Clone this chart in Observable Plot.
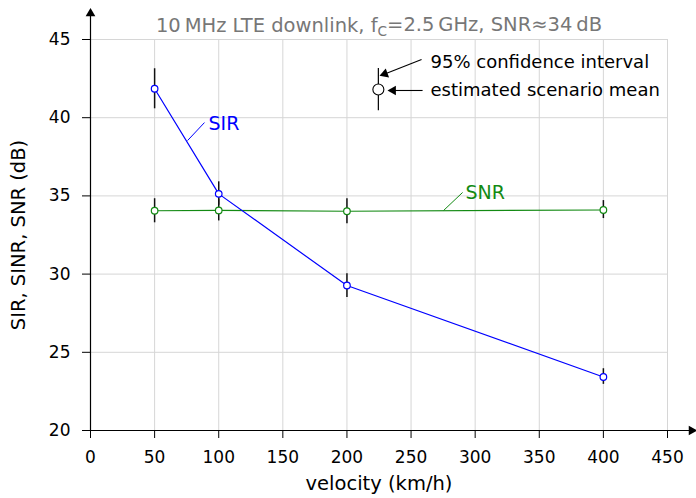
<!DOCTYPE html>
<html>
<head>
<meta charset="utf-8">
<script src="https://cdn.jsdelivr.net/npm/d3@7"></script>
<script src="https://cdn.jsdelivr.net/npm/@observablehq/plot@0.6"></script>
<style>
  html, body { margin: 0; padding: 0; background: #fff; }
  svg { font-family: "DejaVu Sans", sans-serif; }
</style>
</head>
<body>
<div id="chart"></div>
<script>
// ---- data ----
const velocity = [50, 100, 200, 400];
const sirMean = [41.85, 35.13, 29.27, 23.42];
const sirLo   = [40.57, 34.40, 28.50, 22.95];
const sirHi   = [43.13, 35.90, 30.02, 23.95];
const snrMean = [34.05, 34.07, 34.02, 34.10];
const snrLo   = [33.28, 33.40, 33.22, 33.55];
const snrHi   = [34.82, 34.80, 34.81, 34.70];

const xTicks = [0, 50, 100, 150, 200, 250, 300, 350, 400, 450];
const yTicks = [20, 25, 30, 35, 40, 45];

const titleParts = ["10\u2009MHz LTE downlink, f", "C", "=2.5\u2009GHz, SNR\u224834\u2009dB"];
const titleText = titleParts.join("");
const xLabel = "velocity (km/h)";
const yLabel = "SIR, SINR, SNR (dB)";

// legend / annotation (data coordinates)
const legendMark = [{x: 224.5, y: 41.8, lo: 40.45, hi: 43.15}];
const legendText = [
  {x: 265.2, y: 43.53, t: "95% confidence interval"},
  {x: 265.2, y: 41.74, t: "estimated scenario mean"}
];
const legendArrows = [
  {x1: 258.2, y1: 43.72, x2: 229.5, y2: 42.80},
  {x1: 259.0, y1: 41.74, x2: 236.0, y2: 41.74}
];
const seriesLabels = [
  {name: "SIR", x: 92.0, y: 39.63, lx1: 75.7, ly1: 38.54, lx2: 88.9, ly2: 39.69},
  {name: "SNR", x: 292.5, y: 35.22, lx1: 275.4, ly1: 34.07, lx2: 290.2, ly2: 35.22}
];
const yLabelPos = [{x: -56, y: 32.5}];
const colors = {SIR: "#0000ff", SNR: "#138a13"};

const sir = velocity.map((v, i) => ({v, m: sirMean[i], lo: sirLo[i], hi: sirHi[i]}));
const snr = velocity.map((v, i) => ({v, m: snrMean[i], lo: snrLo[i], hi: snrHi[i]}));

const chart = Plot.plot({
  width: 696,
  height: 498,
  marginLeft: 90,
  marginRight: 29,
  marginTop: 39,
  marginBottom: 68,
  x: {domain: [0, 450]},
  y: {domain: [20, 45]},
  style: {fontFamily: "DejaVu Sans, sans-serif", background: "#fff"},
  marks: [
    Plot.gridX(xTicks.filter(d => d > 0), {stroke: "#d6d6d6", strokeOpacity: 1}),
    Plot.gridY(yTicks.filter(d => d > 20), {stroke: "#d6d6d6", strokeOpacity: 1, x1: 0, x2: 450}),
    // axes lines with arrowheads
    Plot.ruleX([0], {y1: 20, y2: 46.6, stroke: "#000", strokeWidth: 1.2}),
    Plot.ruleY([20], {x1: 0, x2: 468, stroke: "#000", strokeWidth: 1.2}),
    Plot.dot([{x: 0, y: 46.6}], {x: "x", y: "y", symbol: "triangle", r: 3.6, fill: "#000", stroke: "none", rotate: 0, dy: -1}),
    Plot.dot([{x: 468, y: 20}], {x: "x", y: "y", symbol: "triangle", r: 3.6, fill: "#000", stroke: "none", rotate: 90, dx: 1}),
    Plot.axisX(xTicks, {tickSize: 8, tickPadding: 12, fontSize: 17, label: null, color: "#000"}),
    Plot.axisY(yTicks, {tickSize: 8, tickPadding: 12, fontSize: 17, label: null, color: "#000"}),
    // axis labels and title
    Plot.text([xLabel], {frameAnchor: "bottom", dy: 59, fontSize: 19.5, fill: "#000", text: d => d}),
    Plot.text(yLabelPos, {x: "x", y: "y", rotate: -90, fontSize: 19.5, fill: "#000", text: () => yLabel}),
    Plot.text([titleText], {frameAnchor: "top", dy: -21, fontSize: 19.5, fill: "#777", text: d => d}),
    // series lines
    Plot.line(snr, {x: "v", y: "m", stroke: colors.SNR, strokeWidth: 1.2}),
    Plot.line(sir, {x: "v", y: "m", stroke: colors.SIR, strokeWidth: 1.2}),
    // confidence intervals
    Plot.ruleX(snr, {x: "v", y1: "lo", y2: "hi", stroke: "#111", strokeWidth: 1.5}),
    Plot.ruleX(sir, {x: "v", y1: "lo", y2: "hi", stroke: "#111", strokeWidth: 1.5}),
    // means
    Plot.dot(snr, {x: "v", y: "m", r: 3.3, stroke: colors.SNR, fill: "#fff", strokeWidth: 1.2}),
    Plot.dot(sir, {x: "v", y: "m", r: 3.3, stroke: colors.SIR, fill: "#fff", strokeWidth: 1.2}),
    // series labels
    Plot.link(seriesLabels, {x1: "lx1", y1: "ly1", x2: "lx2", y2: "ly2", stroke: d => colors[d.name], strokeWidth: 1}),
    Plot.text(seriesLabels, {x: "x", y: "y", text: "name", fill: d => colors[d.name], fontSize: 19, textAnchor: "start"}),
    // legend
    Plot.ruleX(legendMark, {x: "x", y1: "lo", y2: "hi", stroke: "#000", strokeWidth: 1.2}),
    Plot.dot(legendMark, {x: "x", y: "y", r: 5.5, stroke: "#000", fill: "#fff", strokeWidth: 1.1}),
    Plot.link(legendArrows, {x1: "x1", y1: "y1", x2: "x2", y2: "y2", stroke: "#000", strokeWidth: 1.1}),
    Plot.dot([legendArrows[0]], {x: "x2", y: "y2", symbol: "triangle", r: 3.6, fill: "#000", stroke: "none", rotate: -110}),
    Plot.dot([legendArrows[1]], {x: "x2", y: "y2", symbol: "triangle", r: 3.6, fill: "#000", stroke: "none", rotate: -90}),
    Plot.text(legendText, {x: "x", y: "y", text: "t", fontSize: 18, fill: "#000", textAnchor: "start"})
  ]
});

// subscript C in the title
d3.select(chart).selectAll("text")
  .filter(function () { return this.textContent === titleText; })
  .each(function () {
    const t = d3.select(this);
    t.text(null);
    t.append("tspan").text(titleParts[0]);
    t.append("tspan").attr("font-size", "0.7em").attr("dy", "0.3em").text(titleParts[1]);
    t.append("tspan").attr("dy", "-0.3em").text(titleParts[2]);
  });

document.getElementById("chart").appendChild(chart);
</script>
</body>
</html>
